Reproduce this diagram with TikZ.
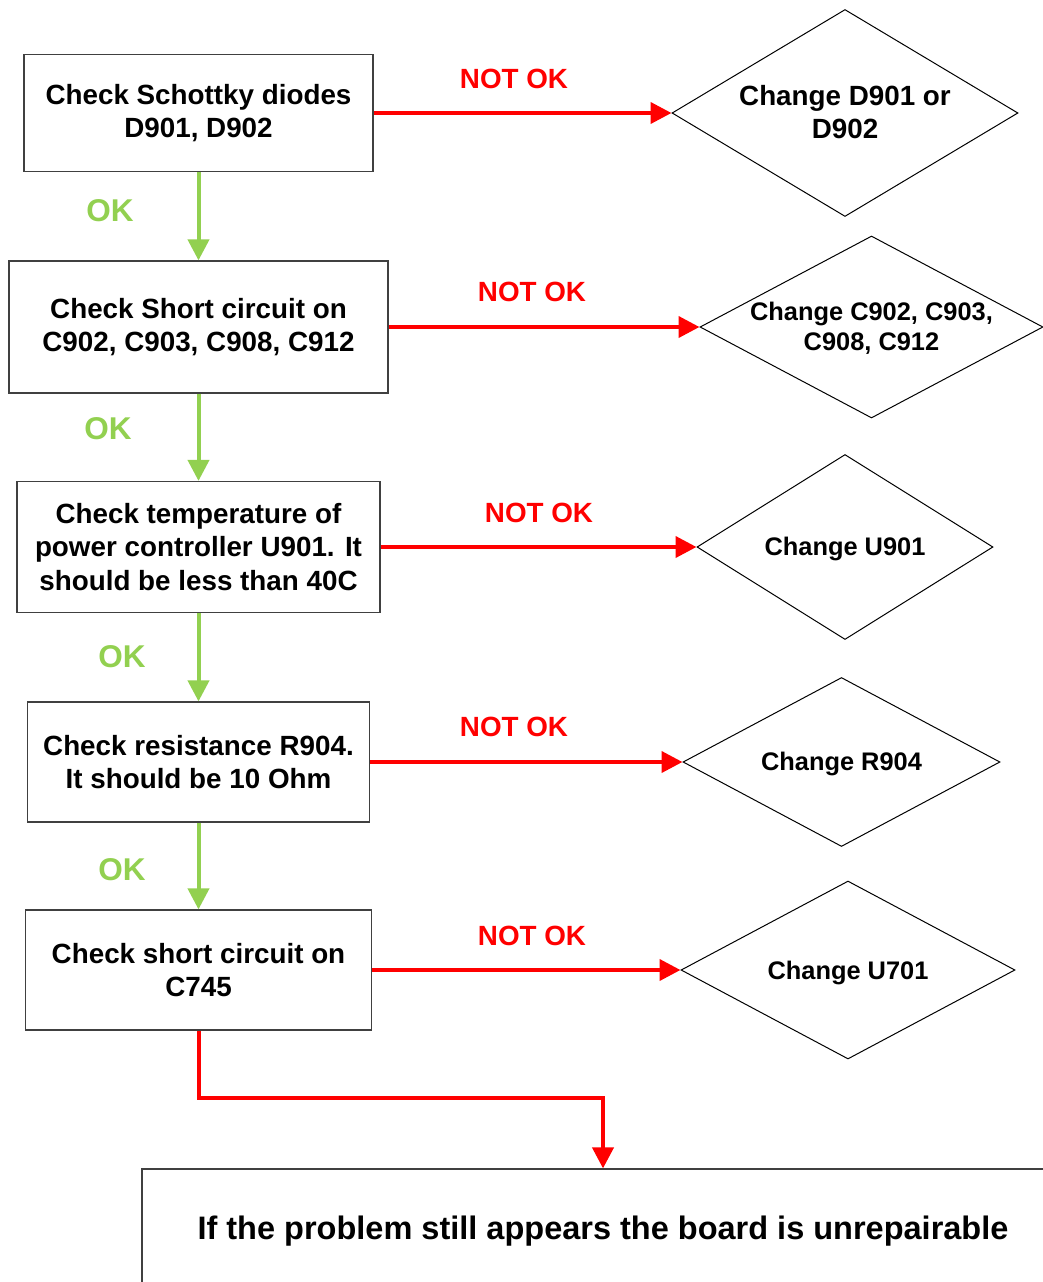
\documentclass[tikz,border=0pt]{standalone}
\usepackage{fontspec}
\setmainfont{Liberation Sans}
\usetikzlibrary{arrows.meta,shapes.geometric}
\definecolor{okgreen}{RGB}{146,208,80}
\definecolor{nokred}{RGB}{255,0,0}
\definecolor{boxgray}{RGB}{64,64,64}
\begin{document}
\begin{tikzpicture}[x=1pt,y=-1pt,
 stepbox/.style={draw=boxgray,line width=1.2pt,rectangle,align=center,inner sep=0pt,font=\fontsize{27.8}{33.4}\selectfont\bfseries},
 chgshape/.style={draw=black,line width=1pt,diamond,inner sep=0pt},
 chgtext/.style={align=center,inner sep=0pt,font=\fontsize{25.4}{30.5}\selectfont\bfseries},
 bigchgtext/.style={align=center,inner sep=0pt,font=\fontsize{27.8}{33.4}\selectfont\bfseries},
 okarrow/.style={draw=okgreen,line width=4pt,-{Triangle[length=21pt,width=21pt]}},
 nokarrow/.style={draw=nokred,line width=4pt,-{Triangle[length=21pt,width=21pt]}},
 oklabel/.style={text=okgreen,font=\fontsize{31.5}{36}\selectfont\bfseries,inner sep=0pt},
 noklabel/.style={text=nokred,font=\fontsize{27.8}{33}\selectfont\bfseries,inner sep=0pt}]
\useasboundingbox (0,0) rectangle (1043,1282);
\clip (0,0) rectangle (1043,1282);
% step boxes
\node[stepbox,minimum width=349pt,minimum height=117pt] (b1) at (198.5,113) {Check Schottky diodes\\D901, D902};
\node[stepbox,minimum width=379pt,minimum height=132pt] (b2) at (198.5,327) {Check Short circuit on\\C902, C903, C908, C912};
\node[stepbox,minimum width=363pt,minimum height=131pt] (b3) at (198.5,547) {Check temperature of\\power controller U901. It\\should be less than 40C};
\node[stepbox,minimum width=342pt,minimum height=120pt] (b4) at (198.5,762) {Check resistance R904.\\It should be 10 Ohm};
\node[stepbox,minimum width=346pt,minimum height=120pt] (b5) at (198.5,970) {Check short circuit on\\C745};
% diamonds
\node[chgshape,minimum width=346pt,minimum height=207pt] (d1) at (845,113) {};
\node[bigchgtext] (t1) at (845,112) {Change D901 or\\D902};
\node[chgshape,minimum width=343pt,minimum height=182pt] (d2) at (871.5,327) {};
\node[chgtext] (t2) at (871.5,328.5) {Change C902, C903,\\C908, C912};
\node[chgshape,minimum width=296pt,minimum height=185pt] (d3) at (845,547) {};
\node[chgtext] (t3) at (845,549) {Change U901};
\node[chgshape,minimum width=317pt,minimum height=169pt] (d4) at (841.5,762) {};
\node[chgtext] (t4) at (841.5,764) {Change R904};
\node[chgshape,minimum width=334pt,minimum height=178pt] (d5) at (848,970) {};
\node[chgtext] (t5) at (848,972.5) {Change U701};
% final box
\node[draw=boxgray,line width=1.2pt,minimum width=922pt,minimum height=124pt,inner sep=0pt,font=\fontsize{32.5}{39}\selectfont\bfseries] (fin) at (603,1231) {If the problem still appears the board is unrepairable};
% NOT OK arrows
\draw[nokarrow] (b1.east) -- (d1.west);
\draw[nokarrow] (b2.east) -- (d2.west);
\draw[nokarrow] (b3.east) -- (d3.west);
\draw[nokarrow] (b4.east) -- (d4.west);
\draw[nokarrow] (b5.east) -- (d5.west);
\draw[nokarrow] (b5.south) -- ++(0,67) -| (fin.north);
% OK arrows
\draw[okarrow] (b1.south) -- (b2.north);
\draw[okarrow] (b2.south) -- (b3.north);
\draw[okarrow] (b3.south) -- (b4.north);
\draw[okarrow] (b4.south) -- (b5.north);
% labels
\node[noklabel] (n1) at (514,79) {NOT OK};
\node[noklabel] (n2) at (532,292) {NOT OK};
\node[noklabel] (n3) at (539,513) {NOT OK};
\node[noklabel] (n4) at (514,727) {NOT OK};
\node[noklabel] (n5) at (532,936) {NOT OK};
\node[oklabel] (o1) at (110,211) {OK};
\node[oklabel] (o2) at (108,429) {OK};
\node[oklabel] (o3) at (122,657) {OK};
\node[oklabel] (o4) at (122,870) {OK};
\end{tikzpicture}
\end{document}
